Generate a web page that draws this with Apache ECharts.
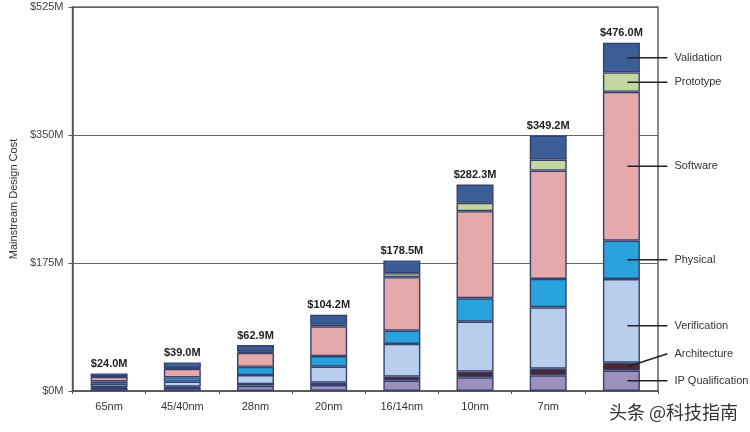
<!DOCTYPE html>
<html><head><meta charset="utf-8">
<script src="https://cdn.jsdelivr.net/npm/echarts@6/dist/echarts.min.js"></script>
<style>html,body{margin:0;padding:0;background:#fff}#c{width:750px;height:432px}</style>
</head><body><div id="c"></div>
<script>
const categories = ['65nm', '45/40nm', '28nm', '20nm', '16/14nm', '10nm', '7nm', '5nm'];
const ipQualification = [4.0, 4.4, 7.2, 8.2, 14.1, 18.7, 21.5, 27.8];
const architecture = [1.5, 1.5, 2.3, 3.1, 5.5, 7.7, 9.0, 10.9];
const verification = [4.5, 6.8, 12.3, 21.9, 44.7, 68.4, 84.0, 114.4];
const physical = [3.0, 5.8, 11.3, 14.6, 18.2, 32.0, 38.7, 52.4];
const software = [6.5, 11.8, 19.1, 40.7, 73.1, 119.0, 148.2, 203.5];
const prototype = [0.5, 1.0, 1.5, 2.0, 5.5, 11.5, 15.0, 26.5];
const validation = [4.0, 7.7, 9.2, 13.7, 17.4, 25.0, 32.8, 40.5];
const totalLabels = ['$24.0M', '$39.0M', '$62.9M', '$104.2M', '$178.5M', '$282.3M', '$349.2M', '$476.0M'];
const yTickLabels = ['$0M', '$175M', '$350M', '$525M'];
const seriesNames = ['IP Qualification', 'Architecture', 'Verification', 'Physical', 'Software', 'Prototype', 'Validation'];
const seriesData = [ipQualification, architecture, verification, physical, software, prototype, validation];
const colors = ['#9d90bd', '#4b2633', '#b9cdec', '#28a1dc', '#e6a9ab', '#c5d7a1', '#3c5e96'];
const watermark = '头条 @科技指南';

const font = 'Liberation Sans, Arial, sans-serif';
const chart = echarts.init(document.getElementById('c'));
const series = seriesNames.map((n, i) => ({
  name: n, type: 'bar', stack: 'cost', barWidth: 37,
  data: seriesData[i],
  itemStyle: { color: colors[i], borderColor: '#36426e', borderWidth: 1.4 },
  label: i === seriesNames.length - 1 ? {
    show: true, position: 'top', distance: 4,
    formatter: p => totalLabels[p.dataIndex],
    fontFamily: font, fontSize: 11, fontWeight: 'bold', color: '#222'
  } : { show: false }
}));
chart.setOption({
  animation: false,
  backgroundColor: '#fff',
  grid: { left: 69, right: 92, top: 7, bottom: 41, show: true, borderColor: '#666', borderWidth: 1.5 },
  xAxis: {
    type: 'category', data: categories,
    axisLine: { lineStyle: { color: '#555', width: 1.5 } },
    axisTick: { show: true, length: 3, lineStyle: { color: '#555' } },
    axisLabel: { fontFamily: font, fontSize: 11, color: '#333', margin: 10,
      formatter: (v, i) => i === categories.length - 1 ? '' : v }
  },
  yAxis: {
    type: 'value', min: 0, max: 525, interval: 175,
    name: 'Mainstream Design Cost', nameLocation: 'middle', nameGap: 53,
    nameTextStyle: { fontFamily: font, fontSize: 11, color: '#333' },
    axisLine: { show: true, lineStyle: { color: '#555', width: 1.5 } },
    axisTick: { show: true, length: 4, lineStyle: { color: '#555' } },
    axisLabel: { fontFamily: font, fontSize: 11, color: '#444', margin: 9,
      formatter: v => yTickLabels[Math.round(v / 175)] },
    splitLine: { show: true, lineStyle: { color: '#666', width: 1.2 } }
  },
  series: series
});

// annotations for the last bar, positioned through the chart's own scales
const last = categories.length - 1;
const graphics = [];
let base = 0;
const yOffsets = [0, -13, 5, 0, 0, 0, 0];
seriesData.forEach((arr, i) => {
  const v = arr[last];
  const mid = base + v / 2;
  base += v;
  const p = chart.convertToPixel({ xAxisIndex: 0, yAxisIndex: 0 }, [last, mid]);
  const x0 = p[0] + 6, x1 = p[0] + 46;
  const ty = p[1] + yOffsets[i];
  graphics.push({ type: 'line', shape: { x1: x0, y1: p[1] + (i === 1 ? 0 : yOffsets[i]), x2: x1, y2: ty },
    style: { stroke: '#222', lineWidth: 1.5 }, z: 100 });
  graphics.push({ type: 'text', x: x1 + 7, y: ty,
    style: { text: seriesNames[i], fontFamily: font, fontSize: 11, fill: '#333', textVerticalAlign: 'middle' }, z: 100 });
});
graphics.push({ type: 'text', right: 12, bottom: 11,
  style: { text: watermark, fontFamily: 'Noto Sans CJK SC, sans-serif', fontSize: 18, fill: '#333' }, z: 100 });
chart.setOption({ graphic: graphics });
</script>
</body></html>
